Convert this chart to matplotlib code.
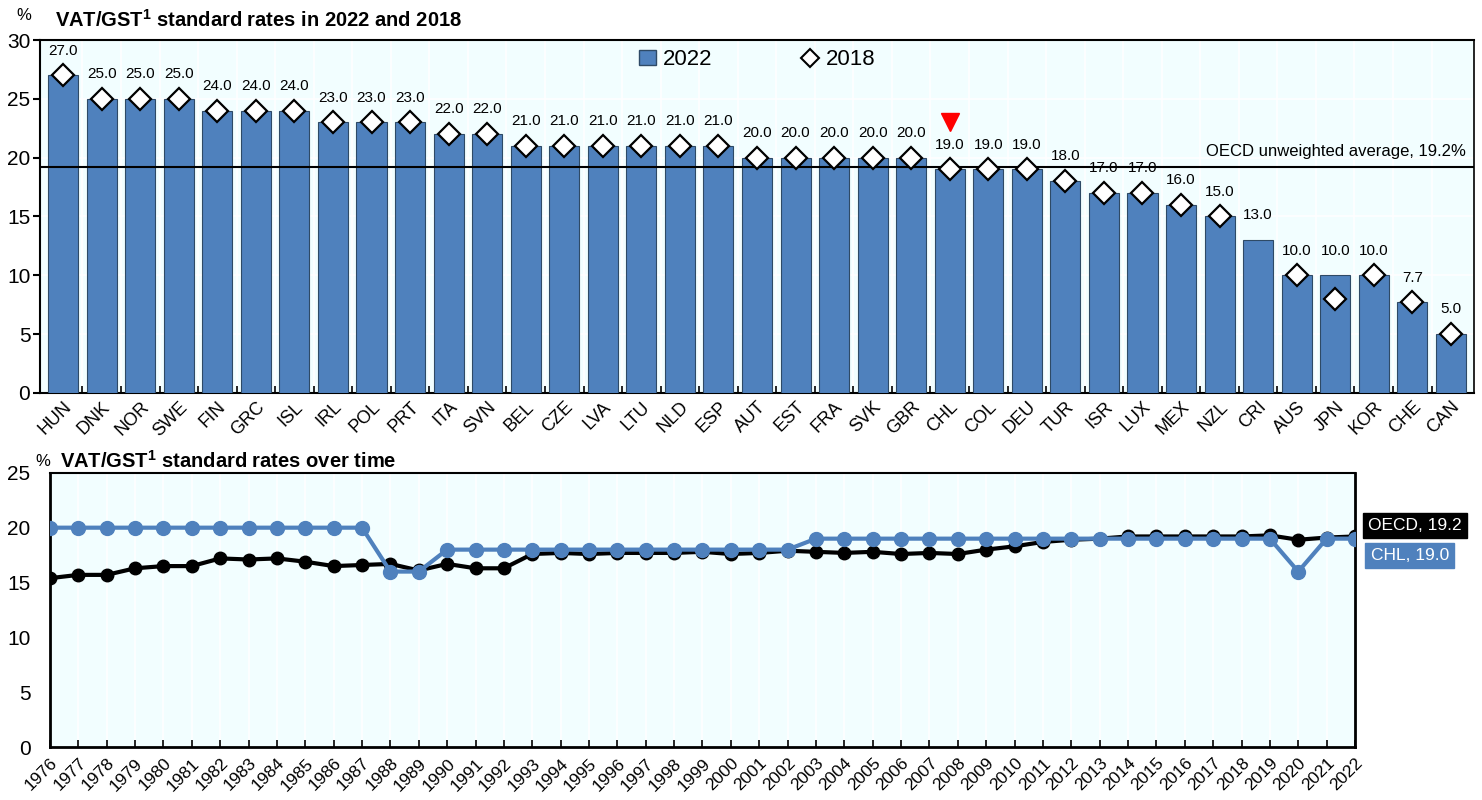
import numpy as np
import matplotlib.pyplot as plt
from matplotlib.lines import Line2D
from matplotlib.patches import Patch

plt.rcParams['font.family'] = ['Liberation Sans', 'DejaVu Sans']

countries = ['HUN', 'DNK', 'NOR', 'SWE', 'FIN', 'GRC', 'ISL', 'IRL', 'POL', 'PRT',
             'ITA', 'SVN', 'BEL', 'CZE', 'LVA', 'LTU', 'NLD', 'ESP', 'AUT', 'EST',
             'FRA', 'SVK', 'GBR', 'CHL', 'COL', 'DEU', 'TUR', 'ISR', 'LUX', 'MEX',
             'NZL', 'CRI', 'AUS', 'JPN', 'KOR', 'CHE', 'CAN']
rate_2022 = [27.0, 25.0, 25.0, 25.0, 24.0, 24.0, 24.0, 23.0, 23.0, 23.0,
             22.0, 22.0, 21.0, 21.0, 21.0, 21.0, 21.0, 21.0, 20.0, 20.0,
             20.0, 20.0, 20.0, 19.0, 19.0, 19.0, 18.0, 17.0, 17.0, 16.0,
             15.0, 13.0, 10.0, 10.0, 10.0, 7.7, 5.0]
rate_2018 = [27.0, 25.0, 25.0, 25.0, 24.0, 24.0, 24.0, 23.0, 23.0, 23.0,
             22.0, 22.0, 21.0, 21.0, 21.0, 21.0, 21.0, 21.0, 20.0, 20.0,
             20.0, 20.0, 20.0, 19.0, 19.0, 19.0, 18.0, 17.0, 17.0, 16.0,
             15.0, np.nan, 10.0, 8.0, 10.0, 7.7, 5.0]
oecd_avg_2022 = 19.2
highlight = 'CHL'

years = list(range(1976, 2023))
oecd_rate = [15.4, 15.7, 15.7, 16.3, 16.5, 16.5, 17.2, 17.1, 17.2, 16.9,
             16.5, 16.6, 16.7, 16.1, 16.7, 16.3, 16.3, 17.6, 17.7, 17.6,
             17.7, 17.7, 17.7, 17.8, 17.6, 17.7, 17.9, 17.8, 17.7, 17.8,
             17.6, 17.7, 17.6, 18.0, 18.3, 18.7, 18.9, 19.0, 19.2, 19.2,
             19.2, 19.2, 19.2, 19.3, 18.9, 19.1, 19.2]
chl_rate = [20.0] * 12 + [16.0, 16.0] + [18.0] * 13 + [19.0] * 17 + [16.0, 19.0, 19.0]

bar_col = '#4F81BD'
bg_col = '#F2FEFF'

fig = plt.figure(figsize=(14.82, 8), dpi=100)

# top panel: bars 2022 + diamonds 2018
ax1 = fig.add_axes([0.027, 0.509, 0.9676, 0.441])
ax1.set_facecolor(bg_col)
x = np.arange(len(countries))
ax1.bar(x, rate_2022, width=0.78, color=bar_col, edgecolor='#2E4A66', linewidth=0.8, zorder=3)
ax1.plot(x, rate_2018, linestyle='none', marker='D', markersize=11, markerfacecolor='white',
         markeredgecolor='black', markeredgewidth=1.6, zorder=5)
for xi, v in zip(x, rate_2022):
    ax1.text(xi, v + 1.5, f'{v:.1f}', ha='center', va='bottom', fontsize=11, zorder=6)
ci = countries.index(highlight)
ax1.plot([ci], [23.0], marker='v', color='red', markersize=13, linestyle='none', zorder=6)
ax1.axhline(oecd_avg_2022, color='black', linewidth=1.5, zorder=4)
ax1.text(len(countries) - 0.6, oecd_avg_2022 + 0.7, 'OECD unweighted average, 19.2%',
         ha='right', va='bottom', fontsize=12, zorder=6)
ax1.set_xlim(-0.6, len(countries) - 0.4)
ax1.set_ylim(0, 30)
ax1.set_yticks(range(0, 31, 5))
ax1.set_xticks(x)
ax1.set_xticklabels(countries, rotation=45, ha='right', rotation_mode='anchor', fontsize=13)
ax1.tick_params(axis='x', length=0, pad=4)
ax1.set_xticks(x[:-1] + 0.5, minor=True)
ax1.tick_params(axis='x', which='minor', direction='in', length=5, width=1.2)
ax1.tick_params(axis='y', labelsize=15, length=5, width=1.5, direction='out', pad=2)
ax1.grid(axis='y', color='white', linewidth=1.2, zorder=0)
ax1.grid(axis='x', which='minor', color='white', linewidth=1.2, zorder=0)
for s in ax1.spines.values():
    s.set_linewidth(1.5)
ax1.spines['right'].set_linewidth(1.2)
fig.text(0.011, 0.98, '%', fontsize=12, va='center')
fig.text(0.037, 0.975, 'VAT/GST$^\\mathregular{1}$ standard rates in 2022 and 2018',
         fontsize=14.5, fontweight='bold', va='center')
handles = [Patch(facecolor=bar_col, edgecolor='#2E4A66', label='2022'),
           Line2D([], [], linestyle='none', marker='D', markersize=9, markerfacecolor='white',
                  markeredgecolor='black', markeredgewidth=1.5, label='2018')]
ax1.legend(handles=handles, loc='upper center', bbox_to_anchor=(0.5, 1.03), ncol=2,
           frameon=False, fontsize=16, handlelength=0.8, handletextpad=0.3, columnspacing=4)

# bottom panel: lines over time
ax2 = fig.add_axes([0.0337, 0.066, 0.8806, 0.343])
ax2.set_facecolor(bg_col)
ax2.plot(years, oecd_rate, color='black', linewidth=3, marker='o', markersize=9, zorder=3)
ax2.plot(years, chl_rate, color=bar_col, linewidth=3, marker='o', markersize=10, zorder=4)
ax2.set_xlim(years[0], years[-1])
ax2.set_ylim(0, 25)
ax2.set_yticks(range(0, 26, 5))
ax2.set_xticks(years)
ax2.set_xticklabels([str(y) for y in years], rotation=45, ha='right', rotation_mode='anchor',
                    fontsize=12.5)
ax2.tick_params(axis='x', direction='in', length=5, width=1.2, pad=6)
ax2.tick_params(axis='y', length=0, labelsize=15, pad=14)
ax2.grid(axis='x', color='white', linewidth=1.2, zorder=0)
for s in ax2.spines.values():
    s.set_linewidth(2)
ax2.spines['top'].set_linewidth(1.5)
ax2.text(-0.011, 1.015, '%', transform=ax2.transAxes, fontsize=12, va='bottom')
ax2.text(0.008, 1.005, 'VAT/GST$^\\mathregular{1}$ standard rates over time',
         transform=ax2.transAxes, fontsize=14.5, fontweight='bold', va='bottom')
ax2.annotate(f'OECD, {oecd_rate[-1]:.1f}', xy=(1.01, oecd_rate[-1] + 0.3),
             xycoords=('axes fraction', 'data'), fontsize=12.5, color='white', va='bottom',
             bbox=dict(boxstyle='square,pad=0.3', facecolor='black', edgecolor='black'))
ax2.annotate(f'CHL, {chl_rate[-1]:.1f}', xy=(1.012, chl_rate[-1] - 2.2),
             xycoords=('axes fraction', 'data'), fontsize=12.5, color='white', va='bottom',
             bbox=dict(boxstyle='square,pad=0.3', facecolor=bar_col, edgecolor=bar_col))

fig.savefig('out.png', dpi=100)
